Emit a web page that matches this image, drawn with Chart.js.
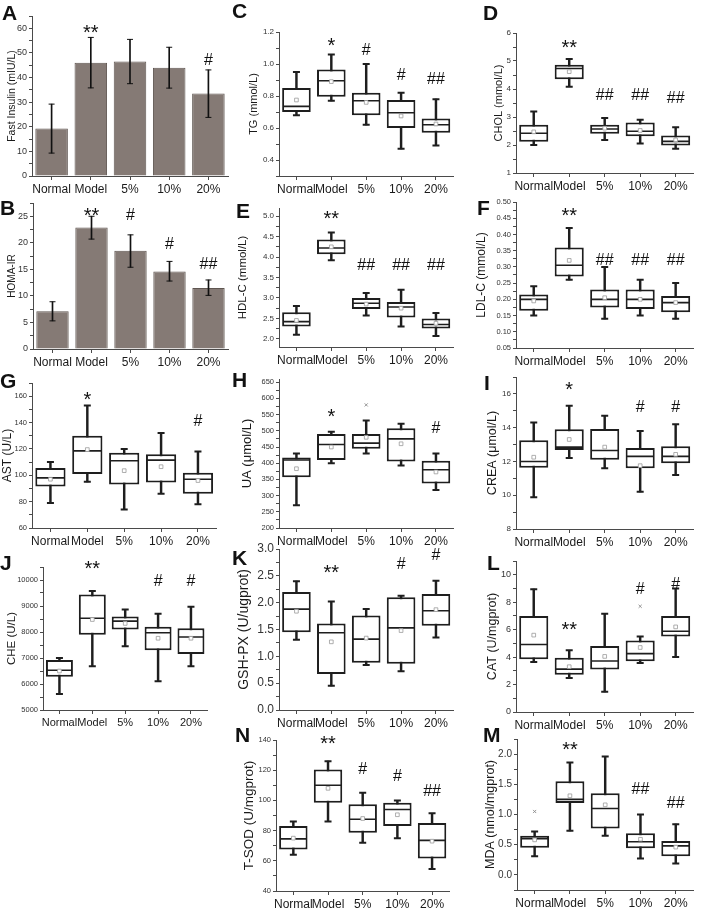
<!DOCTYPE html>
<html><head><meta charset="utf-8">
<script src="https://cdn.jsdelivr.net/npm/chart.js@4.4.1/dist/chart.umd.min.js"></script>
<style>
body{margin:0;background:#fff;width:709px;height:909px;position:relative;overflow:hidden}
canvas{position:absolute}
.letter{position:absolute;font:bold 21px "Liberation Sans",Arial,sans-serif;line-height:1;color:#111;z-index:2}
</style></head><body>
<script>
/* ===== DATA ===== */
const groups = ['Normal', 'Model', '5%', '10%', '20%'];

// A - fasting insulin (mean, error bar ends)
const insMean = [19.3, 46.0, 46.5, 44.0, 33.5];
const insLo   = [9.3, 35.8, 37.5, 35.7, 23.8];
const insHi   = [29.2, 56.3, 55.5, 52.3, 43.1];
const insSig  = ['', '**', '', '', '#'];
const insSigAt = [0, 60.4, 0, 0, 47.3];

// B - HOMA-IR
const homaMean = [7.1, 22.9, 18.5, 14.6, 11.5];
const homaLo   = [5.3, 20.7, 15.4, 12.8, 10.1];
const homaHi   = [8.9, 25.0, 21.5, 16.5, 13.0];
const homaSig  = ['', '**', '#', '#', '##'];
const homaSigAt = [0, 26.1, 25.4, 19.9, 16.2];

// C - TG
const tgMin  = [0.68, 0.77, 0.62, 0.47, 0.49];
const tgQ1   = [0.70, 0.795, 0.68, 0.60, 0.57];
const tgMed  = [0.735, 0.895, 0.77, 0.695, 0.62];
const tgQ3   = [0.85, 0.965, 0.82, 0.775, 0.66];
const tgMax  = [0.95, 1.06, 1.00, 0.82, 0.78];
const tgMean = [0.775, 0.89, 0.76, 0.675, 0.625];
const tgSig  = ['', '*', '#', '#', '##'];
const tgSigAt = [0, 1.148, 1.095, 0.938, 0.91];

// D - CHOL
const cholMin  = [2.0, 4.08, 2.18, 2.05, 1.87];
const cholQ1   = [2.12, 4.35, 2.40, 2.31, 1.98];
const cholMed  = [2.42, 4.73, 2.57, 2.49, 2.13];
const cholQ3   = [2.72, 4.87, 2.72, 2.80, 2.34];
const cholMax  = [3.2, 5.07, 2.96, 2.90, 2.63];
const cholMean = [2.47, 4.62, 2.6, 2.52, 2.18];
const cholSig  = ['', '**', '##', '##', '##'];
const cholSigAt = [0, 5.64, 3.8, 3.83, 3.71];

// E - HDL-C
const hdlMin  = [2.1, 3.92, 2.57, 2.3, 2.07];
const hdlQ1   = [2.3, 4.07, 2.73, 2.52, 2.25];
const hdlMed  = [2.42, 4.22, 2.87, 2.78, 2.35];
const hdlQ3   = [2.65, 4.43, 3.0, 2.9, 2.5];
const hdlMax  = [2.8, 4.6, 3.12, 3.2, 2.63];
const hdlMean = [2.45, 4.25, 2.85, 2.75, 2.38];
const hdlSig  = ['', '**', '##', '##', '##'];
const hdlSigAt = [0, 5.06, 3.82, 3.82, 3.82];

// F - LDL-C
const ldlMin  = [0.15, 0.26, 0.14, 0.15, 0.14];
const ldlQ1   = [0.165, 0.27, 0.175, 0.17, 0.16];
const ldlMed  = [0.20, 0.305, 0.20, 0.20, 0.19];
const ldlQ3   = [0.215, 0.36, 0.23, 0.23, 0.21];
const ldlMax  = [0.24, 0.42, 0.30, 0.26, 0.25];
const ldlMean = [0.195, 0.32, 0.205, 0.20, 0.19];
const ldlSig  = ['', '**', '##', '##', '##'];
const ldlSigAt = [0, 0.474, 0.325, 0.325, 0.325];

// G - AST
const astMin  = [79, 95, 74, 86, 78];
const astQ1   = [91.5, 101, 93, 94.5, 86];
const astMed  = [98, 118.5, 111, 111.5, 97];
const astQ3   = [105.5, 130, 117, 116, 102];
const astMax  = [110, 153, 120, 132, 118];
const astMean = [97, 119.5, 103.5, 106.5, 96];
const astSig  = ['', '*', '', '', '#'];
const astSigAt = [0, 161.3, 0, 0, 141.4];

// H - UA
const uaMin  = [270, 400, 430, 393, 317];
const uaQ1   = [357, 410, 445, 405, 337];
const uaMed  = [410, 458, 462, 475, 380];
const uaQ3   = [418, 490, 490, 508, 408];
const uaMax  = [430, 497, 532, 522, 430];
const uaMean = [383, 450, 480, 460, 373];
const uaOut  = [null, null, 580, null, null];
const uaSig  = ['', '*', '', '', '#'];
const uaSigAt = [0, 560, 0, 0, 511];

// I - CREA
const creaMin  = [9.88, 12.2, 11.6, 10.2, 11.2];
const creaQ1   = [11.62, 12.68, 12.1, 11.6, 11.9];
const creaMed  = [12.0, 12.85, 12.65, 12.3, 12.3];
const creaQ3   = [13.25, 13.9, 13.92, 12.8, 12.9];
const creaMax  = [14.3, 15.3, 14.7, 13.8, 14.2];
const creaMean = [12.25, 13.3, 12.85, 11.75, 12.42];
const creaSig  = ['', '*', '', '#', '#'];
const creaSigAt = [0, 16.53, 0, 15.25, 15.25];

// J - CHE
const cheMin  = [5620, 6680, 7450, 6110, 6680];
const cheQ1   = [6280, 7890, 8100, 7300, 7150];
const cheMed  = [6530, 8530, 8420, 7970, 7810];
const cheQ3   = [6920, 9440, 8600, 8200, 8140];
const cheMax  = [7000, 9580, 8870, 8700, 8970];
const cheMean = [6500, 8480, 8330, 7760, 7760];
const cheSig  = ['', '**', '', '#', '#'];
const cheSigAt = [0, 10640, 0, 10000, 10000];

// K - GSH-PX
const gshMin  = [1.31, 0.45, 0.84, 0.72, 1.35];
const gshQ1   = [1.45, 0.67, 0.88, 0.86, 1.57];
const gshMed  = [1.88, 1.44, 1.32, 1.53, 1.85];
const gshQ3   = [2.2, 1.61, 1.76, 2.10, 2.16];
const gshMax  = [2.4, 2.02, 1.88, 2.13, 2.41];
const gshMean = [1.84, 1.27, 1.34, 1.48, 1.87];
const gshSig  = ['', '**', '', '#', '#'];
const gshSigAt = [0, 2.645, 0, 2.74, 2.91];

// L - CAT
const catMin  = [3.65, 2.48, 1.47, 3.57, 4.0];
const catQ1   = [3.85, 2.72, 3.1, 3.7, 5.5];
const catMed  = [4.92, 3.12, 3.72, 4.25, 5.88];
const catQ3   = [7.0, 3.95, 4.8, 5.2, 7.0];
const catMax  = [8.95, 4.5, 7.15, 5.5, 9.0];
const catMean = [5.6, 3.3, 4.05, 4.7, 6.2];
const catOut  = [null, null, null, 7.7, null];
const catSig  = ['', '**', '', '#', '#'];
const catSigAt = [0, 6.39, 0, 9.05, 9.4];

// N - T-SOD
const sodMin  = [64, 86, 72, 75, 54.5];
const sodQ1   = [67.5, 98.5, 78.5, 83, 61.5];
const sodMed  = [74.5, 110, 87.5, 94, 73.5];
const sodQ3   = [83, 120.5, 97.5, 98.5, 85];
const sodMax  = [86, 126, 105, 100, 91.5];
const sodMean = [75, 108, 88, 90.5, 73];
const sodSig  = ['', '**', '#', '#', '##'];
const sodSigAt = [0, 141, 121.5, 116.7, 106.9];

// M - MDA
const mdaMin  = [0.31, 0.73, 0.65, 0.27, 0.19];
const mdaQ1   = [0.45, 1.19, 0.77, 0.44, 0.31];
const mdaMed  = [0.6, 1.25, 1.1, 0.55, 0.48];
const mdaQ3   = [0.65, 1.55, 1.35, 0.69, 0.56];
const mdaMax  = [0.72, 1.86, 1.96, 1.0, 0.84];
const mdaMean = [0.58, 1.31, 1.16, 0.59, 0.46];
const mdaOut  = [1.05, null, null, null, null];
const mdaSig  = ['', '**', '', '##', '##'];
const mdaSigAt = [0, 2.16, 0, 1.43, 1.21];

/* ===== PANELS ===== */
const FONT = '"Liberation Sans", Arial, sans-serif';
const INK = '#1e1e1e';
const AXIS = '#4a4a4a';
const PADT = 30, XH = 26;

const box = (min, q1, med, q3, max, mean, out) => ({ min, q1, med, q3, max, mean, out });

const panels = [
  { L:'A', kind:'bar', bar:{ mean:insMean, lo:insLo, hi:insHi }, sig:insSig, at:insSigAt,
    y:{ min:0, max:65, major:10, minor:5, dec:0 }, title:'Fast Insulin (mIU/L)', ts:10.5, tk:9,
    pos:{ col:0, ax:32, top:16, bottom:176, right:229, tx:12 }, lp:[2,2] },
  { L:'B', kind:'bar', bar:{ mean:homaMean, lo:homaLo, hi:homaHi }, sig:homaSig, at:homaSigAt,
    y:{ min:0, max:27.5, major:5, minor:2.5, dec:0 }, title:'HOMA-IR', ts:10, tk:9,
    pos:{ col:0, ax:33, top:203, bottom:349, right:229, tx:12 }, lp:[0,197] },
  { L:'C', box:box(tgMin, tgQ1, tgMed, tgQ3, tgMax, tgMean), sig:tgSig, at:tgSigAt,
    y:{ min:0.3, max:1.2, major:0.2, minor:0.1, dec:1 }, title:'TG (mmol/L)', ts:11, tk:8,
    pos:{ col:230, ax:279, top:32, bottom:176, right:466, tx:254 }, lp:[232,0] },
  { L:'D', box:box(cholMin, cholQ1, cholMed, cholQ3, cholMax, cholMean), sig:cholSig, at:cholSigAt,
    y:{ min:1, max:6, major:1, minor:0.5, dec:0 }, title:'CHOL (mmol/L)', ts:11, tk:8,
    pos:{ col:470, ax:516, top:33, bottom:173, right:706, tx:499 }, lp:[483,2] },
  { L:'E', box:box(hdlMin, hdlQ1, hdlMed, hdlQ3, hdlMax, hdlMean), sig:hdlSig, at:hdlSigAt,
    y:{ min:1.8, max:5.2, major:0.5, minor:0.25, dec:1 }, title:'HDL-C (mmol/L)', ts:11.5, tk:8,
    pos:{ col:230, ax:279, top:208, bottom:347, right:466, tx:243 }, lp:[236,200] },
  { L:'F', box:box(ldlMin, ldlQ1, ldlMed, ldlQ3, ldlMax, ldlMean), sig:ldlSig, at:ldlSigAt,
    y:{ min:0.05, max:0.5, major:0.05, minor:0.025, dec:2 }, title:'LDL-C (mmol/L)', ts:12, tk:7.5,
    pos:{ col:470, ax:516, top:202, bottom:348, right:706, tx:482 }, lp:[477,197] },
  { L:'G', box:box(astMin, astQ1, astMed, astQ3, astMax, astMean), sig:astSig, at:astSigAt,
    y:{ min:60, max:170, major:20, minor:10, dec:0 }, title:'AST (U/L)', ts:12, tk:7.5,
    pos:{ col:0, ax:32, top:383, bottom:528, right:229, tx:8 }, lp:[0,370] },
  { L:'H', box:box(uaMin, uaQ1, uaMed, uaQ3, uaMax, uaMean, uaOut), sig:uaSig, at:uaSigAt,
    y:{ min:200, max:660, major:50, minor:25, dec:0 }, title:'UA (μmol/L)', ts:13, tk:7.5,
    pos:{ col:230, ax:279, top:379, bottom:528, right:466, tx:247 }, lp:[232,369] },
  { L:'I', box:box(creaMin, creaQ1, creaMed, creaQ3, creaMax, creaMean), sig:creaSig, at:creaSigAt,
    y:{ min:8, max:17, major:2, minor:1, dec:0 }, title:'CREA (μmol/L)', ts:12.5, tk:8,
    pos:{ col:470, ax:516, top:377, bottom:529, right:706, tx:493 }, lp:[484,372] },
  { L:'J', box:box(cheMin, cheQ1, cheMed, cheQ3, cheMax, cheMean), sig:cheSig, at:cheSigAt,
    y:{ min:5000, max:10500, major:1000, minor:500, dec:0 }, title:'CHE (U/L)', ts:11.5, tk:7.5, xs:11,
    pos:{ col:0, ax:43, top:567, bottom:710, right:220, tx:12 }, lp:[0,552] },
  { L:'K', box:box(gshMin, gshQ1, gshMed, gshQ3, gshMax, gshMean), sig:gshSig, at:gshSigAt,
    y:{ min:0, max:3, major:0.5, minor:0.25, dec:1 }, title:'GSH-PX (U/ugprot)', ts:14, tk:12,
    pos:{ col:230, ax:279, top:549, bottom:710, right:466, tx:244 }, lp:[232,547] },
  { L:'L', box:box(catMin, catQ1, catMed, catQ3, catMax, catMean, catOut), sig:catSig, at:catSigAt,
    y:{ min:0, max:11, major:2, minor:1, dec:0 }, title:'CAT (U/mgprot)', ts:12.5, tk:9,
    pos:{ col:470, ax:516, top:561, bottom:712, right:706, tx:493 }, lp:[487,552] },
  { L:'N', box:box(sodMin, sodQ1, sodMed, sodQ3, sodMax, sodMean), sig:sodSig, at:sodSigAt,
    y:{ min:40, max:140, major:20, minor:10, dec:0 }, title:'T-SOD (U/mgprot)', ts:13.5, tk:7.5,
    pos:{ col:230, ax:276, top:740, bottom:891, right:462, tx:249 }, lp:[235,724] },
  { L:'M', box:box(mdaMin, mdaQ1, mdaMed, mdaQ3, mdaMax, mdaMean, mdaOut), sig:mdaSig, at:mdaSigAt,
    y:{ min:-0.25, max:2.25, major:0.5, minor:0.25, dec:1 }, title:'MDA (nmol/mgprot)', ts:12.5, tk:10,
    pos:{ col:470, ax:517, top:739, bottom:890, right:706, tx:491 }, lp:[483,724] }
];

/* ===== HELPERS ===== */
const sigPlugin = {
  id: 'sig',
  afterDatasetsDraw(chart, args, opts) {
    const { ctx, scales: { x, y } } = chart;
    ctx.save();
    ctx.fillStyle = '#111';
    ctx.textAlign = 'center';
    ctx.textBaseline = 'alphabetic';
    opts.text.forEach((t, i) => {
      if (!t) return;
      const star = t[0] === '*';
      const size = star ? 20 : 16;
      ctx.font = `${size}px ${FONT}`;
      ctx.fillText(t, x.getPixelForValue(i), y.getPixelForValue(opts.at[i]) + size * (star ? 0.57 : 0.36));
    });
    ctx.restore();
  }
};

const pts = (data, extra) => Object.assign({ type: 'line', data, showLine: false, pointHoverRadius: 0 }, extra);

function boxSets(b) {
  const half = c => c.chart.chartArea ? c.chart.chartArea.width / groups.length * 0.41 - 1 : 14;
  return [
    { data: groups.map((g, i) => [b.min[i], b.max[i]]), barThickness: 1.8, backgroundColor: INK, grouped: false, order: 6 },
    { data: groups.map((g, i) => [b.q1[i], b.q3[i]]), barPercentage: 0.82, categoryPercentage: 1,
      backgroundColor: '#fff', borderColor: INK, borderWidth: 2, borderSkipped: false, grouped: false, order: 5 },
    pts(b.max, { pointStyle: 'line', pointRadius: 3.5, pointBorderColor: INK, pointBorderWidth: 2, order: 4 }),
    pts(b.min, { pointStyle: 'line', pointRadius: 3.5, pointBorderColor: INK, pointBorderWidth: 2, order: 4 }),
    pts(b.med, { pointStyle: 'line', pointRadius: half, pointBorderColor: INK, pointBorderWidth: 1.6, order: 3 }),
    pts(b.mean, { pointStyle: 'rect', pointRadius: 2.6, pointBorderColor: '#9a9a9a', pointBackgroundColor: '#fff', pointBorderWidth: 0.8, order: 2 }),
    pts(b.out || groups.map(() => null), { pointStyle: 'crossRot', pointRadius: 2.2, pointBorderColor: '#8a8a8a', pointBorderWidth: 0.9, order: 1 })
  ];
}

function barSets(b) {
  return [
    { data: groups.map((g, i) => [b.lo[i], b.hi[i]]), barThickness: 1, backgroundColor: '#111', grouped: false, order: 2 },
    { data: b.mean, barPercentage: 0.83, categoryPercentage: 1, backgroundColor: '#857a75',
      borderColor: '#5f5651', borderWidth: 1, grouped: false, order: 3 },
    pts(b.hi, { pointStyle: 'line', pointRadius: 3, pointBorderColor: '#111', pointBorderWidth: 1, order: 1 }),
    pts(b.lo, { pointStyle: 'line', pointRadius: 3, pointBorderColor: '#111', pointBorderWidth: 1, order: 1 })
  ];
}

/* ===== RENDER ===== */
panels.forEach(p => {
  const P = p.pos;
  const cv = document.createElement('canvas');
  const cTop = P.top - PADT;
  cv.width = P.right - P.col + 3;
  cv.height = P.bottom - cTop + XH;
  cv.style.left = P.col + 'px';
  cv.style.top = cTop + 'px';
  document.body.appendChild(cv);

  const lt = document.createElement('div');
  lt.className = 'letter';
  lt.textContent = p.L;
  lt.style.left = p.lp[0] + 'px';
  lt.style.top = p.lp[1] + 'px';
  document.body.appendChild(lt);

  const isMajor = v => Math.abs(v / p.y.major - Math.round(v / p.y.major)) < 1e-6;

  new Chart(cv, {
    type: 'bar',
    data: { labels: groups, datasets: p.kind === 'bar' ? barSets(p.bar) : boxSets(p.box) },
    options: {
      responsive: false, animation: false, devicePixelRatio: 1,
      layout: { padding: { top: PADT, right: 3, left: 0, bottom: 0 } },
      plugins: { legend: { display: false }, tooltip: { enabled: false }, sig: { text: p.sig, at: p.at } },
      scales: {
        x: {
          afterFit: s => { s.height = XH; },
          border: { color: AXIS, width: 1 },
          grid: { offset: false, drawOnChartArea: false, tickLength: 4, color: AXIS },
          ticks: { padding: 2, autoSkip: false, maxRotation: 0, color: '#1a1a1a', font: { size: p.xs || 12, family: FONT } }
        },
        y: {
          min: p.y.min, max: p.y.max,
          afterFit: s => { s.width = P.ax - P.col; },
          border: { color: AXIS, width: 1 },
          grid: { drawOnChartArea: false, tickLength: 3, color: AXIS },
          ticks: { stepSize: p.y.minor, includeBounds: false, autoSkip: false, padding: 2, color: '#333',
            font: { size: p.tk, family: FONT }, callback: v => isMajor(v) ? Number(v).toFixed(p.y.dec) : '' },
          title: { display: true, text: p.title, color: '#1a1a1a', font: { size: p.ts, family: FONT },
            padding: { top: Math.max(0, P.tx - P.col - 0.6 * p.ts), bottom: 0 } }
        }
      }
    },
    plugins: [sigPlugin]
  });
});
</script>
</body></html>
